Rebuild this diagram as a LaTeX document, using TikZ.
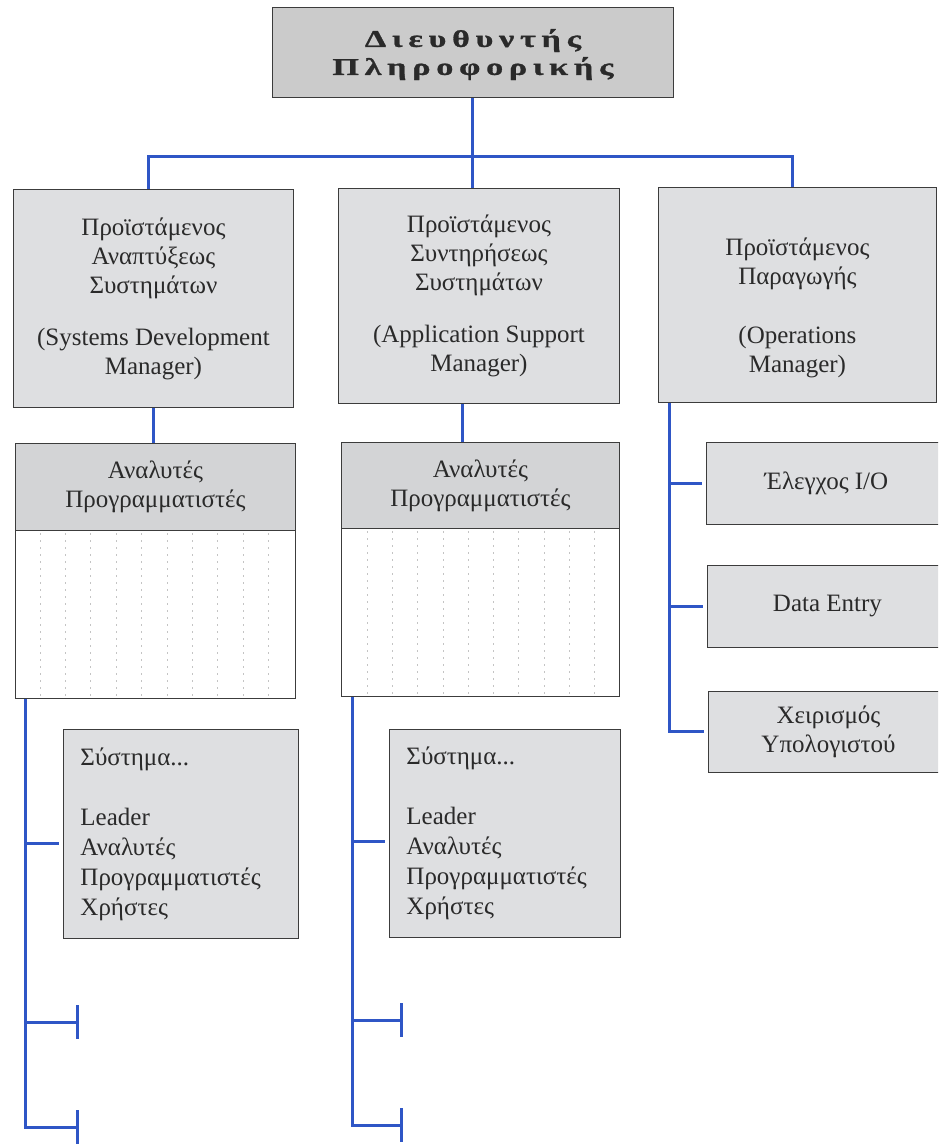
\documentclass[tikz,border=0pt]{standalone}
\usepackage{fontspec}
\setmainfont{Liberation Serif}
\newfontfamily\headfont{Liberation Serif}[LetterSpace=24, FakeStretch=1.42, FakeBold=1.2]
\usetikzlibrary{arrows.meta}

\definecolor{ink}{HTML}{2A2A2A}
\definecolor{frame}{HTML}{3C3C3C}
\definecolor{boxfill}{HTML}{DEDFE1}
\definecolor{headfill}{HTML}{D3D4D6}
\definecolor{topfill}{HTML}{CBCBCB}
\definecolor{wire}{HTML}{2F56C6}
\definecolor{rulegray}{HTML}{C4C4C4}

\begin{document}
\begin{tikzpicture}[x=1pt,y=-1pt,
  box/.style={draw=frame, line width=0.9pt, fill=boxfill, text=ink,
    anchor=north west, inner sep=0pt, align=center,
    font=\fontsize{25}{29}\selectfont},
  topbox/.style={box, fill=topfill, font=\headfont\bfseries\fontsize{24}{28}\selectfont},
  headbox/.style={box, fill=headfill},
  bodybox/.style={box, fill=white},
  listbox/.style={box, align=left, font=\fontsize{25}{30}\selectfont},
  wireline/.style={draw=wire, line width=3pt},
  barend/.style={wireline, -{Bar[width=34pt]}},
  gridrule/.style={draw=rulegray, line width=0.7pt, dash pattern=on 2pt off 5pt}
]
\clip (0,0) rectangle (938,1144);
\fill[white] (0,0) rectangle (938,1144);

% head of the department
\node[topbox, minimum width=401pt, minimum height=90pt] (dir) at (272,7)
  {\rule{0pt}{22pt}Διευθυντής\\Πληροφορικής};

% the three managers
\node[box, minimum width=280pt, minimum height=218pt] (m1) at (13,189)
  {Προϊστάμενος\\Αναπτύξεως\\Συστημάτων\\[23pt](Systems Development\\Manager)};
\node[box, minimum width=281pt, minimum height=215pt] (m2) at (338,188)
  {Προϊστάμενος\\Συντηρήσεως\\Συστημάτων\\[23pt](Application Support\\Manager)};
\node[box, minimum width=278pt, minimum height=215pt] (m3) at (658,187)
  {\rule{0pt}{44pt}Προϊστάμενος\\Παραγωγής\\[30pt](Operations\\Manager)};

% analysts / programmers pools
\node[headbox, minimum width=280pt, minimum height=87pt] (a1h) at (15,443)
  {Αναλυτές\\Προγραμματιστές};
\node[bodybox, minimum width=280pt, minimum height=168pt] (a1b) at (15,530) {};
\node[headbox, minimum width=278pt, minimum height=86pt] (a2h) at (341,442)
  {Αναλυτές\\Προγραμματιστές};
\node[bodybox, minimum width=278pt, minimum height=168pt] (a2b) at (341,528) {};

\foreach \i in {0,...,9} {
  \draw[gridrule] ([xshift={25pt+25.4pt*\i}, yshift=-3pt]a1b.north west)
    -- ([xshift={25pt+25.4pt*\i}, yshift=3pt]a1b.south west);
  \draw[gridrule] ([xshift={26pt+25.3pt*\i}, yshift=-3pt]a2b.north west)
    -- ([xshift={26pt+25.3pt*\i}, yshift=3pt]a2b.south west);
}

% project teams
\node[listbox, minimum width=235pt, minimum height=209pt, text width=201pt] (s1) at (63,729)
  {Σύστημα...\\[30pt]Leader\\Αναλυτές\\Προγραμματιστές\\Χρήστες};
\node[listbox, minimum width=231pt, minimum height=208pt, text width=197pt] (s2) at (389,729)
  {Σύστημα...\\[30pt]Leader\\Αναλυτές\\Προγραμματιστές\\Χρήστες};

% operations units
\node[box, minimum width=240pt, minimum height=82pt] (e1) at (706,442) {Έλεγχος I/O};
\node[box, minimum width=240pt, minimum height=82pt] (e2) at (707,565) {Data Entry};
\node[box, minimum width=240pt, minimum height=81pt] (e3) at (708,691)
  {Χειρισμός\\Υπολογιστού};

% top-level wiring
\coordinate (busL) at (148,156);
\coordinate (busR) at (792,156);
\draw[wireline] (dir.south) -- (dir.south |- m2.north);
\draw[wireline] (busL |- m1.north) -- (busL) -- (busR) -- (busR |- m3.north);

% managers to their pools
\coordinate (k2) at (462,0);
\draw[wireline] (m1.south) -- (m1.south |- a1h.north);
\draw[wireline] (k2 |- m2.south) -- (k2 |- a2h.north);

% left trunk
\coordinate (t1) at (25,1127);
\coordinate (j11) at (25,843);
\coordinate (j12) at (25,1022);
\coordinate (c12) at (79,1022);
\coordinate (c13) at (79,1127);
\draw[barend] (t1 |- a1b.south) -- (t1) -- (c13);
\draw[wireline, shorten >=4pt] (j11) -- (s1.west |- j11);
\draw[barend] (j12) -- (c12);

% middle trunk
\coordinate (t2) at (352,1125);
\coordinate (j21) at (352,841);
\coordinate (j22) at (352,1020);
\coordinate (c22) at (403,1020);
\coordinate (c23) at (403,1125);
\draw[barend] (t2 |- a2b.south) -- (t2) -- (c23);
\draw[wireline, shorten >=4pt] (j21) -- (s2.west |- j21);
\draw[barend] (j22) -- (c22);

% operations trunk
\coordinate (t3) at (669,0);
\draw[wireline, shorten >=4pt] (t3 |- m3.south) -- (t3 |- e3.west) -- (e3.west);
\draw[wireline, shorten >=4pt] (t3 |- e1.west) -- (e1.west);
\draw[wireline, shorten >=4pt] (t3 |- e2.west) -- (e2.west);
\end{tikzpicture}
\end{document}
